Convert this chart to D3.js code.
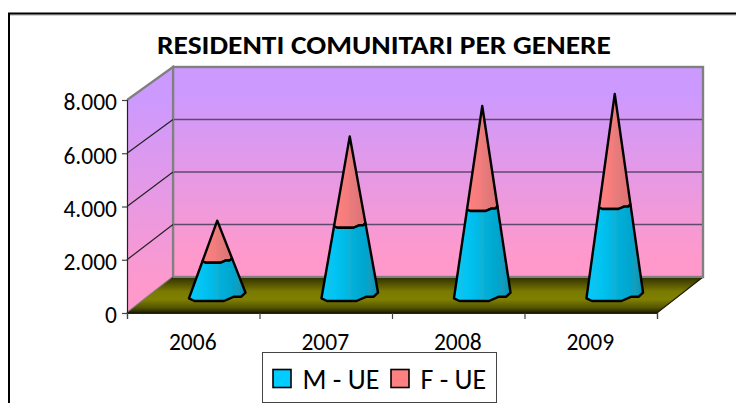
<!DOCTYPE html>
<html><head><meta charset="utf-8">
<script src="https://cdn.jsdelivr.net/npm/d3@7"></script>
<style>html,body{margin:0;padding:0;background:#fff;overflow:hidden}svg{display:block}text{font-family:Carlito,Calibri,"Open Sans","Liberation Sans",sans-serif;fill:#000}</style>
</head><body><svg id="c" width="736" height="403"></svg>
<script>
const years = ["2006","2007","2008","2009"];
const maleUE = [1460,2790,3430,3505];
const femaleUE = [1600,3480,4000,4385];
const yTicks = [0,2000,4000,6000,8000];
const yLabels = ["0","2.000","4.000","6.000","8.000"];
const title = "RESIDENTI COMUNITARI PER GENERE";
const legendNames = ["M - UE","F - UE"];

const svg = d3.select("#c");
const defs = svg.append("defs");
function lin(id,x2,y2,stops){
  const g=defs.append("linearGradient").attr("id",id).attr("x1",0).attr("y1",0).attr("x2",x2).attr("y2",y2);
  stops.forEach(s=>g.append("stop").attr("offset",s[0]).attr("stop-color",s[1]));
}
lin("wall",0,1,[[0,"#cc99ff"],[0.12,"#cc99ff"],[0.9,"#ff99cc"],[1,"#ff99cc"]]);
lin("floor",0,1,[[0,"#2e2e00"],[0.4,"#7a7a00"],[0.62,"#808000"],[0.85,"#555500"],[1,"#1c1c00"]]);
lin("coneM",1,0,[[0,"#00ccff"],[0.1,"#00c8fa"],[0.15,"#14c0e6"],[0.2,"#00c6f6"],[0.45,"#00b8e4"],[0.5,"#16b0d2"],[0.55,"#00b0da"],[0.8,"#00a4cc"],[0.85,"#189cbc"],[1,"#0094b8"]]);
lin("coneF",1,0,[[0,"#ff8080"],[0.45,"#f47c7c"],[0.5,"#ea7c7c"],[1,"#dc7272"]]);

svg.append("rect").attr("x",9).attr("y",15).attr("width",800).attr("height",500).attr("fill","none").attr("stroke","#aaa").attr("stroke-width",1);
svg.append("rect").attr("x",9).attr("y",13.5).attr("width",800).attr("height",500).attr("fill","#fff").attr("fill-opacity",0).attr("stroke","#000").attr("stroke-width",2);

const depthX=46, depthY=36;
const x = d3.scaleBand().domain(years).range([127,657]);
const y = d3.scaleLinear().domain([0,8000]).range([313,100]);
const yBack = y.copy().range([277,67]);
const yCone = y.copy().range([301,91]);
const X0=127,X1=657;

// back wall
svg.append("rect").attr("x",X0+depthX).attr("y",yBack(8000)).attr("width",X1-X0).attr("height",yBack(0)-yBack(8000)).attr("fill","url(#wall)").attr("stroke","#808080").attr("stroke-width",2.4);
// side wall
svg.append("path").attr("d",d3.line()([[X0,y(0)],[X0+depthX,yBack(0)],[X0+depthX,yBack(8000)],[X0,y(8000)]])+"Z").attr("fill","url(#wall)").attr("stroke","none");
svg.append("path").attr("d",d3.line()([[X0,y(8000)],[X0+depthX,yBack(8000)],[X0+depthX,yBack(0)],[X0,y(0)]])).attr("fill","none").attr("stroke","#808080").attr("stroke-width",2.2);
// floor
svg.append("path").attr("d",d3.line()([[X0,y(0)],[X0+depthX,yBack(0)],[X1+depthX,yBack(0)],[X1,y(0)]])+"Z").attr("fill","url(#floor)");
svg.append("path").attr("d",d3.line()([[X0,y(0)],[X1,y(0)],[X1+depthX,yBack(0)]])).attr("fill","none").attr("stroke","#1a1a00").attr("stroke-width",1.2);
svg.append("line").attr("x1",X0+depthX).attr("x2",X1+depthX).attr("y1",yBack(0)).attr("y2",yBack(0)).attr("stroke","#808080").attr("stroke-width",2.2);
// gridlines
yTicks.filter(v=>v>0&&v<8000).forEach(v=>{
  svg.append("line").attr("x1",X0+depthX+1).attr("x2",X1+depthX-1).attr("y1",yBack(v)).attr("y2",yBack(v)).attr("stroke","#5f4a6e").attr("stroke-width",1.7);
  svg.append("line").attr("x1",X0).attr("x2",X0+depthX).attr("y1",y(v)).attr("y2",yBack(v)).attr("stroke","#222").attr("stroke-width",1.2);
});

// axes
const axL = d3.axisLeft(y).tickValues(yTicks).tickFormat((d,i)=>yLabels[i]).tickSize(5).tickPadding(5);
const gL = svg.append("g").attr("transform",`translate(${X0},0)`).call(axL);
const axB = d3.axisBottom(d3.scaleLinear().domain([0,4]).range([X0,X1])).ticks(4).tickFormat("").tickSize(6);
const gB = svg.append("g").attr("transform",`translate(0,${y(0)})`).call(axB);
[gL,gB].forEach(g=>{g.selectAll(".domain").attr("stroke","#222").attr("stroke-width",1.2);g.selectAll("line").attr("stroke","#444").attr("stroke-width",1.2);});
gL.selectAll("text").style("font-size","23.5px").attr("dy","0.42em");
svg.append("g").selectAll("text").data(years).join("text").attr("x",d=>x(d)+x.bandwidth()/2-0.5).attr("y",350).attr("text-anchor","middle").style("font-size","23.5px").text(d=>d);

// cones
const R=[[-28.3,-2.7],[-22.7,0],[6.7,0],[16.7,-4.3],[24,-4.3],[28.3,-8.3]];
const depthShift=24;
function slice(cx,base,apex,level){
  const t=(base-level)/(base-apex);
  return R.map(p=>[cx+p[0]*(1-t),level+p[1]*(1-t)]);
}
const outline=d3.line();
years.forEach((yr,i)=>{
  const cx=x(yr)+x.bandwidth()/2+depthShift;
  const base=yCone(0), mid=yCone(maleUE[i]), apex=yCone(maleUE[i]+femaleUE[i]);
  const bot=slice(cx,base,apex,base), top=slice(cx,base,apex,mid);
  svg.append("path").attr("d",outline([...top,[cx,apex]])+"Z").attr("fill","url(#coneF)").attr("stroke","#000").attr("stroke-width",2.4).attr("stroke-linejoin","round");
  svg.append("path").attr("d",outline([...bot,...top.slice().reverse()])+"Z").attr("fill","url(#coneM)").attr("stroke","#000").attr("stroke-width",2.4).attr("stroke-linejoin","round");
});

// title
svg.append("text").attr("x",384).attr("y",54).attr("text-anchor","middle").style("font-size","27px").style("font-weight","700").attr("textLength",454).attr("lengthAdjust","spacingAndGlyphs").text(title);

// legend
svg.append("rect").attr("x",262.5).attr("y",352.5).attr("width",234).attr("height",50).attr("fill","#fff").attr("stroke","#444").attr("stroke-width",1);
const lg=[{x:273,tx:302.5,f:"#00ccff"},{x:391,tx:420.5,f:"#ff8080"}];
lg.forEach((l,i)=>{
  svg.append("rect").attr("x",l.x).attr("y",369.5).attr("width",18).attr("height",18).attr("fill",l.f).attr("stroke","#000").attr("stroke-width",1.6);
  svg.append("text").attr("x",l.tx).attr("y",389).style("font-size","28px").text(legendNames[i]);
});
</script></body></html>
